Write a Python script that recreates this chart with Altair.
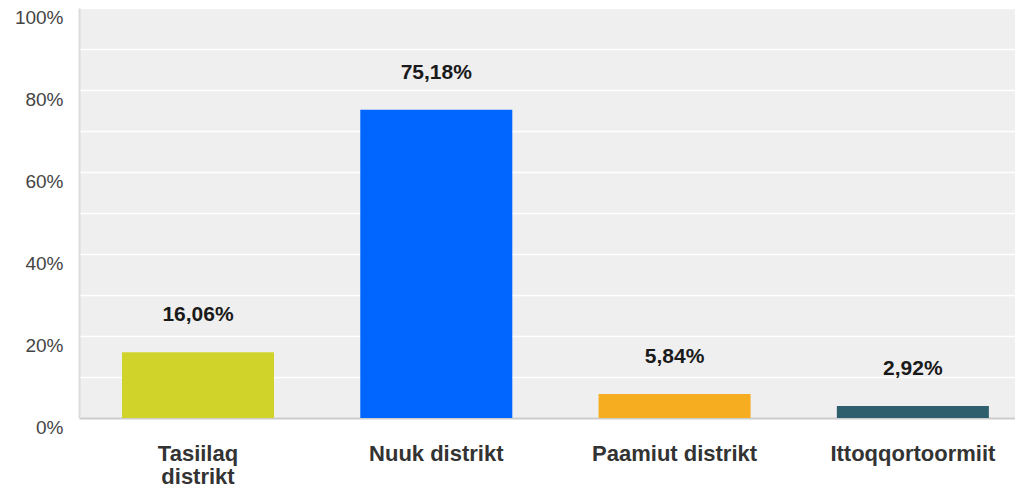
import altair as alt
import pandas as pd

categories = ["Tasiilaq distrikt", "Nuuk distrikt", "Paamiut distrikt", "Ittoqqortoormiit"]
values = [16.06, 75.18, 5.84, 2.92]
colors = ["#d0d42a", "#0066ff", "#f6ae20", "#2f5f6d"]
y_ticks = [0, 10, 20, 30, 40, 50, 60, 70, 80, 90, 100]

df = pd.DataFrame({
    "district": categories,
    "pct": values,
    "label": [f"{v:.2f}".replace(".", ",") + "%" for v in values],
})

FONT = "Liberation Sans"

x_enc = alt.X(
    "district:N",
    sort=categories,
    title=None,
    scale=alt.Scale(paddingInner=0.362, paddingOuter=0.145, align=0.622),
    axis=alt.Axis(
        labelAngle=0,
        ticks=False,
        domainColor="#cccccc",
        domainWidth=2,
        labelFont=FONT,
        labelFontSize=22,
        labelFontWeight="bold",
        labelColor="#333333",
        labelPadding=25,
        labelBaseline="top",
        labelLineHeight=23,
        labelExpr="datum.label == 'Tasiilaq distrikt' ? ['Tasiilaq', 'distrikt'] : datum.label",
    ),
)

y_scale = alt.Scale(domain=[0, 100], nice=False)

bars = alt.Chart(df).mark_bar().encode(
    x=x_enc,
    y=alt.Y(
        "pct:Q",
        scale=y_scale,
        title=None,
        axis=alt.Axis(
            values=y_ticks,
            ticks=False,
            domainColor="#dcdcdc",
            domainWidth=2,
            gridColor="#ffffff",
            gridWidth=1.6,
            labelFont=FONT,
            labelFontSize=19,
            labelColor="#444444",
            labelPadding=16,
            labelOffset=9,
            labelExpr="datum.value % 20 == 0 ? datum.value + '%' : ''",
        ),
    ),
    color=alt.Color("district:N", scale=alt.Scale(domain=categories, range=colors), legend=None),
)

text = alt.Chart(df).mark_text(
    dy=-37, baseline="middle", align="center", font=FONT, fontSize=21, fontWeight="bold", color="#1a1a1a"
).encode(
    x=alt.X("district:N", sort=categories),
    y=alt.Y("pct:Q", scale=y_scale),
    text="label:N",
)

chart = (
    alt.layer(bars, text)
    .properties(
        width=936,
        height=410,
        autosize=alt.AutoSizeParams(type="none"),
        padding={"left": 71, "top": 0, "right": 0, "bottom": 69},
    )
    .configure_view(fill="#efefef", stroke=None)
)

chart.save("out.html", embed_options={"renderer": "svg", "actions": False})
